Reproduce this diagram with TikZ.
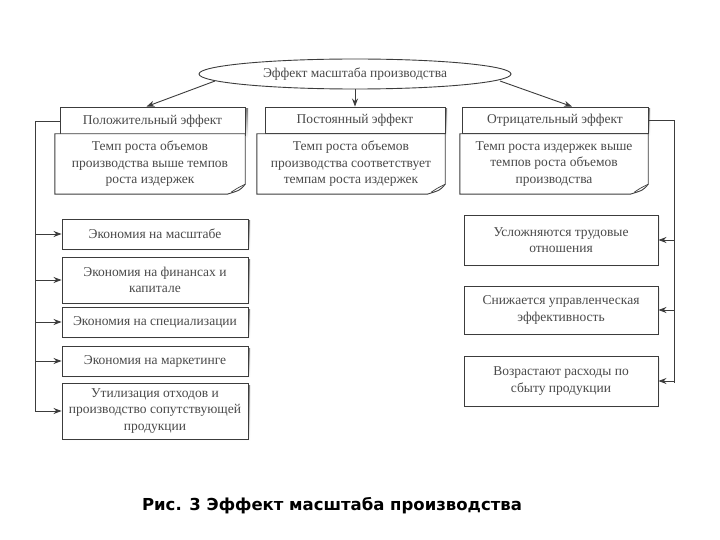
\documentclass[tikz,border=0pt]{standalone}
\usepackage{fontspec}
\setmainfont{Liberation Serif}
\newfontfamily\capfont{DejaVu Sans}
\usetikzlibrary{shapes.geometric,arrows.meta,calc}
\definecolor{ink}{HTML}{3C3C3C}
\definecolor{txt}{HTML}{4A4A4A}
\definecolor{shade}{HTML}{BDBDBD}
\begin{document}
\begin{tikzpicture}[x=1pt,y=-1pt,
  every node/.style={font=\fontsize{13.5}{16.5}\selectfont, text=txt, align=center},
  hbox/.style={draw=ink, line width=0.9pt, fill=white, inner sep=2pt},
  ebox/.style={draw=ink, line width=0.9pt, fill=white, minimum width=186pt, inner sep=2pt},
  notebox/.style={draw=none, inner sep=2pt, minimum height=60pt},
  arr/.style={draw=ink, line width=0.9pt, -{Stealth[length=8pt,width=6pt]}},
  bus/.style={draw=ink, line width=0.9pt}]
\useasboundingbox (0,0) rectangle (720,540);
\fill[white] (0,0) rectangle (720,540);

% top ellipse
\node[ellipse, draw=ink, line width=0.9pt, minimum width=312pt, minimum height=30pt, inner sep=0pt] (ell) at (355,74) {Эффект масштаба производства};

% header boxes (with shadow)
\fill[shade] (62,109) rectangle (248,138);
\node[hbox, minimum width=185pt, minimum height=28pt] (posh) at (152.5,121) {Положительный эффект};
\fill[shade] (267,109) rectangle (447,136);
\node[hbox, minimum width=180pt, minimum height=26pt] (posth) at (355,120) {Постоянный эффект};
\fill[shade] (464,109) rectangle (650,136);
\node[hbox, minimum width=186pt, minimum height=26pt] (otrh) at (555,120) {Отрицательный эффект};

% note boxes
\node[notebox, minimum width=190pt] (n1) at (150,164) {};
\node[notebox, minimum width=188pt] (n2) at (351,164) {};
\node[notebox, minimum width=188pt] (n3) at (554,164) {};
\foreach \n in {n1,n2,n3}{
  \draw[ink, line width=0.9pt, fill=white]
    (\n.north west) -- (\n.north east) -- ($(\n.south east)+(0,-10)$)
    .. controls ($(\n.south east)+(-5,-4)$) .. ($(\n.south east)+(-18,0)$)
    -- (\n.south west) -- cycle;
  \draw[ink, line width=0.7pt] ($(\n.south east)+(0,-10)$) .. controls ($(\n.south east)+(-8,-6)$) .. ($(\n.south east)+(-14,-2)$);
}
\node at (n1) {Темп роста объемов\\производства выше темпов\\роста издержек};
\node at (n2) {Темп роста объемов\\производства соответствует\\темпам роста издержек};
\node at (n3) {Темп роста издержек выше\\темпов роста объемов\\производства};

% connectors from ellipse
\coordinate (eL) at ($(ell.center)+(-140,7)$);
\coordinate (eR) at ($(ell.center)+(145,7)$);
\draw[arr] (eL) -- ([xshift=-6pt]posh.north);
\draw[arr] (ell.south) -- (posth.north);
\draw[arr] (eR) -- ([xshift=17pt]otrh.north);

% left boxes
\foreach \yy/\hh in {234/30,280/46,322/30,361/30,411/56}{
  \fill[shade] (63,\yy-\hh/2+2) rectangle (250,\yy+\hh/2+2);
}
\node[ebox, minimum height=30pt] (l1) at (155,234) {Экономия на масштабе};
\node[ebox, minimum height=46pt] (l2) at (155,280) {Экономия на финансах и\\капитале};
\node[ebox, minimum height=30pt] (l3) at (155,322) {Экономия на специализации};
\node[ebox, minimum height=30pt] (l4) at (155,361) {Экономия на маркетинге};
\node[ebox, minimum height=56pt] (l5) at (155,411) {Утилизация отходов и\\производство сопутствующей\\продукции};

% right boxes
\foreach \yy/\hh in {240/50,310/48,381/50}{
  \fill[shade] (465,\yy-\hh/2+2) rectangle (659,\yy+\hh/2+2);
}
\node[ebox, minimum width=194pt, minimum height=50pt] (r1) at (561,240) {Усложняются трудовые\\отношения};
\node[ebox, minimum width=194pt, minimum height=48pt] (r2) at (561,310) {Снижается управленческая\\эффективность};
\node[ebox, minimum width=194pt, minimum height=50pt] (r3) at (561,381) {Возрастают расходы по\\сбыту продукции};

% left bus
\coordinate (lb) at (35,412);
\draw[bus] (posh.west) -| (lb);
\foreach \b in {l1,l2,l3,l4,l5}{ \draw[arr] (lb |- \b.west) -- (\b.west); }

% right bus
\coordinate (rb) at (674,383);
\draw[bus] (otrh.east) -| (rb);
\foreach \b in {r1,r2,r3}{ \draw[arr] (rb |- \b.east) -- (\b.east); }

% caption
\node[font=\capfont\bfseries\fontsize{16.5}{20}\selectfont, text=black] (cap) at (332,506) {Рис. 3 Эффект масштаба производства};
\end{tikzpicture}
\end{document}
